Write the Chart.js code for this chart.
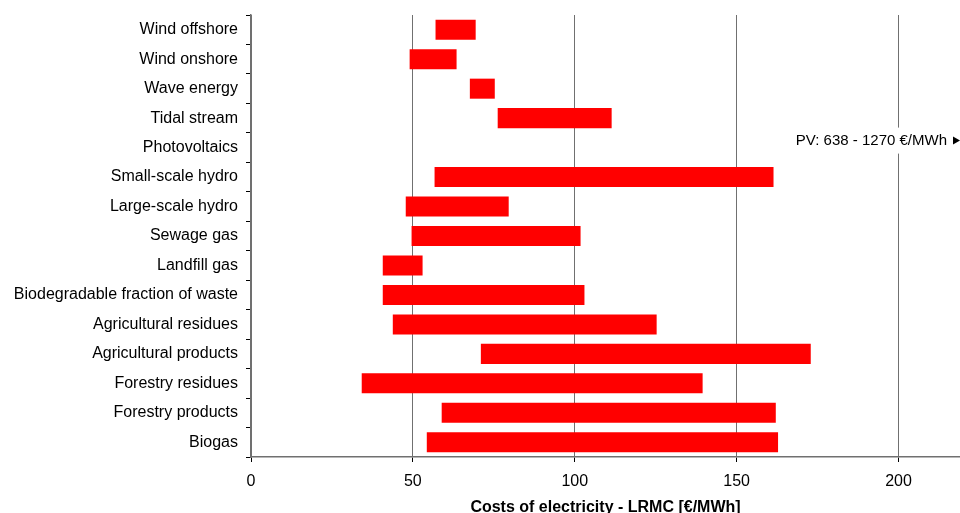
<!DOCTYPE html>
<html>
<head>
<meta charset="utf-8">
<script src="https://cdn.jsdelivr.net/npm/chart.js@4"></script>
<style>
  html, body { margin: 0; padding: 0; background: #fff; }
  #wrap { width: 960px; height: 513px; }
</style>
</head>
<body>
<div id="wrap"><canvas id="graphique-couts"></canvas></div>
<script>
// categories (top to bottom)
const technologies = [
    "Wind offshore", "Wind onshore", "Wave energy", "Tidal stream", "Photovoltaics",
    "Small-scale hydro", "Large-scale hydro", "Sewage gas", "Landfill gas",
    "Biodegradable fraction of waste", "Agricultural residues", "Agricultural products",
    "Forestry residues", "Forestry products", "Biogas"
];
// LRMC range, low and high values in EUR/MWh
const coutMin = [57, 49, 67.6, 76.2, 638, 56.7, 47.8, 49.6, 40.7, 40.7, 43.8, 71, 34.2, 58.9, 54.3];
const coutMax = [69.4, 63.5, 75.3, 111.4, 1270, 161.4, 79.6, 101.8, 53, 103, 125.3, 172.9, 139.5, 162.1, 162.8];
const ticksX = [0, 50, 100, 150, 200];

const fonte = "'Liberation Sans', Arial, sans-serif";

// Note PV hors echelle, dessinee a droite du graphique
const notePV = {
    id: "notePV",
    afterDatasetsDraw(chart) {
        const ctx = chart.ctx;
        const i = technologies.indexOf("Photovoltaics");
        const y = chart.scales.y.getPixelForValue(i) - 7;
        const right = chart.chartArea.right;
        const texte = `PV: ${coutMin[i]} - ${coutMax[i]} €/MWh`;
        ctx.save();
        ctx.font = "15px " + fonte;
        const w = ctx.measureText(texte).width;
        ctx.fillStyle = "#fff";
        ctx.fillRect(right - 13 - w - 2, y - 13, w + 15, 26);
        ctx.fillStyle = "#000";
        ctx.textAlign = "right";
        ctx.textBaseline = "middle";
        ctx.fillText(texte, right - 13, y);
        ctx.beginPath();
        ctx.moveTo(right - 7, y - 4);
        ctx.lineTo(right, y);
        ctx.lineTo(right - 7, y + 4);
        ctx.closePath();
        ctx.fill();
        ctx.restore();
    }
};

const data = {
    labels: technologies,
    datasets: [{
        label: "LRMC",
        data: coutMin.map((v, i) => [v, coutMax[i]]),
        backgroundColor: "#ff0000",
        borderWidth: 0,
        barPercentage: 0.68,
        categoryPercentage: 1
    }]
};

const config = {
    type: "bar",
    data: data,
    plugins: [notePV],
    options: {
        indexAxis: "y",
        responsive: true,
        maintainAspectRatio: false,
        animation: false,
        layout: { padding: { top: 15, right: 0, left: 0, bottom: 0 } },
        plugins: { legend: { display: false }, tooltip: { enabled: false } },
        scales: {
            x: {
                min: 0,
                max: 219,
                afterBuildTicks(scale) {
                    scale.ticks = ticksX.map(v => ({ value: v }));
                },
                afterFit(scale) { scale.height = 56; },
                grid: {
                    color: "#707070",
                    lineWidth: 1,
                    tickColor: "#000",
                    tickLength: 5
                },
                border: { color: "#707070", width: 1.5 },
                ticks: {
                    color: "#000",
                    font: { family: fonte, size: 16 },
                    padding: 10,
                    maxRotation: 0
                },
                title: {
                    display: true,
                    text: "Costs of electricity - LRMC [€/MWh]",
                    color: "#000",
                    font: { family: fonte, size: 16, weight: "bold", lineHeight: 1 },
                    padding: { top: 0, bottom: -3 }
                }
            },
            y: {
                afterFit(scale) {
                    scale.width = 251;
                    scale.paddingTop = 0;
                    scale.paddingBottom = 0;
                },
                grid: {
                    offset: true,
                    drawOnChartArea: false,
                    tickColor: "#000",
                    tickLength: 5
                },
                border: { color: "#707070", width: 1.5 },
                ticks: {
                    color: "#000",
                    font: { family: fonte, size: 16 },
                    padding: 8,
                    autoSkip: false
                }
            }
        }
    }
};

const graphiqueCouts = new Chart(document.querySelector("#graphique-couts"), config);
</script>
</body>
</html>
